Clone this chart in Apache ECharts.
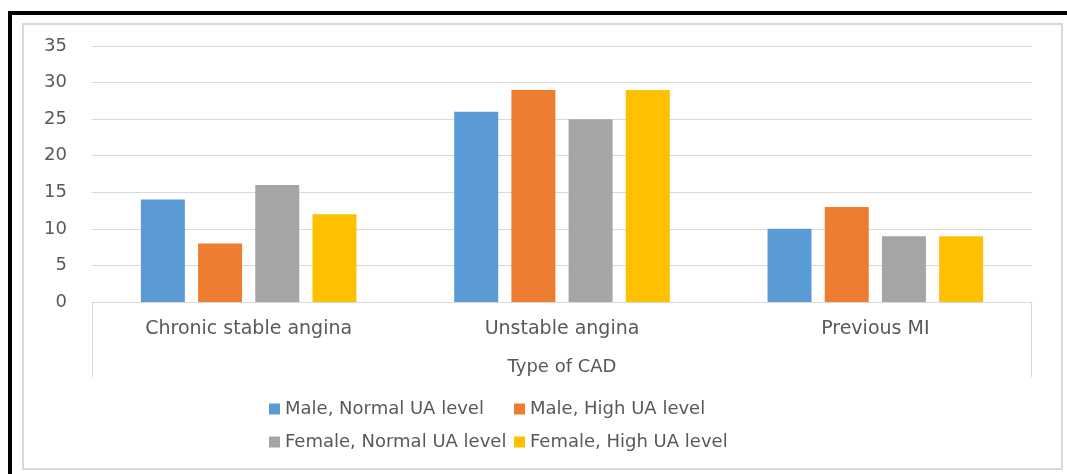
<!DOCTYPE html>
<html>
<head>
<meta charset="utf-8">
<script src="https://cdn.jsdelivr.net/npm/echarts@6/dist/echarts.min.js"></script>
<style>
	html, body { margin: 0; padding: 0; background: #fff; }
	#chart { width: 1067px; height: 474px; }
</style>
</head>
<body>
<div id="chart"></div>
<script>
const categories = ['Chronic stable angina', 'Unstable angina', 'Previous MI']
const maleNormal = [14, 26, 10]
const maleHigh = [8, 29, 13]
const femaleNormal = [16, 25, 9]
const femaleHigh = [12, 29, 9]
const yTicks = [0, 5, 10, 15, 20, 25, 30, 35]

const textColor = '#595959'
const font = 'DejaVu Sans'
const gridLeft = 92
const gridRight = 1032
const gridBottomY = 302

const echart = echarts.init(document.getElementById('chart'))

function bar(name, data, color) {
	return {
		name: name,
		type: 'bar',
		data: data,
		barWidth: 44,
		barGap: '30%',
		itemStyle: { color: color }
	}
}

const option = {
	animation: false,
	textStyle: { fontFamily: font },
	grid: {
		left: gridLeft,
		right: 1067 - gridRight,
		top: 46,
		bottom: 474 - gridBottomY
	},
	legend: [
		{
			orient: 'vertical',
			left: 264,
			top: 395,
			itemWidth: 11,
			itemHeight: 11,
			itemGap: 15,
			icon: 'rect',
			textStyle: { color: textColor, fontSize: 18, fontFamily: font },
			data: ['Male, Normal UA level', 'Female, Normal UA level']
		},
		{
			orient: 'vertical',
			left: 509,
			top: 395,
			itemWidth: 11,
			itemHeight: 11,
			itemGap: 15,
			icon: 'rect',
			textStyle: { color: textColor, fontSize: 18, fontFamily: font },
			data: ['Male, High UA level', 'Female, High UA level']
		}
	],
	xAxis: {
		type: 'category',
		data: categories,
		name: 'Type of CAD',
		nameLocation: 'middle',
		nameGap: 56,
		nameTextStyle: { color: textColor, fontSize: 18, fontFamily: font },
		axisLine: { lineStyle: { color: '#d9d9d9', width: 1 } },
		axisTick: { show: false },
		axisLabel: { color: textColor, fontSize: 19, fontFamily: font, margin: 18 }
	},
	yAxis: {
		type: 'value',
		min: yTicks[0],
		max: yTicks[yTicks.length - 1],
		interval: 5,
		axisLine: { show: false },
		axisTick: { show: false },
		axisLabel: { color: textColor, fontSize: 18, fontFamily: font, margin: 25 },
		splitLine: { lineStyle: { color: '#d9d9d9', width: 1 } }
	},
	graphic: [
		{
			type: 'rect',
			shape: { x: 23, y: 24, width: 1039, height: 445 },
			style: { fill: 'none', stroke: '#d9d9d9', lineWidth: 2 }
		},
		{
			type: 'rect',
			shape: { x: 8, y: 11, width: 1059, height: 4 },
			style: { fill: '#000' }
		},
		{
			type: 'rect',
			shape: { x: 8, y: 11, width: 4, height: 463 },
			style: { fill: '#000' }
		},
		{
			type: 'line',
			shape: { x1: gridLeft + 0.5, y1: gridBottomY, x2: gridLeft + 0.5, y2: 377 },
			style: { stroke: '#d9d9d9', lineWidth: 1 }
		},
		{
			type: 'line',
			shape: { x1: gridRight - 0.5, y1: gridBottomY, x2: gridRight - 0.5, y2: 377 },
			style: { stroke: '#d9d9d9', lineWidth: 1 }
		}
	],
	series: [
		bar('Male, Normal UA level', maleNormal, '#5b9bd5'),
		bar('Male, High UA level', maleHigh, '#ed7d31'),
		bar('Female, Normal UA level', femaleNormal, '#a5a5a5'),
		bar('Female, High UA level', femaleHigh, '#ffc000')
	]
}

echart.setOption(option)
</script>
</body>
</html>
